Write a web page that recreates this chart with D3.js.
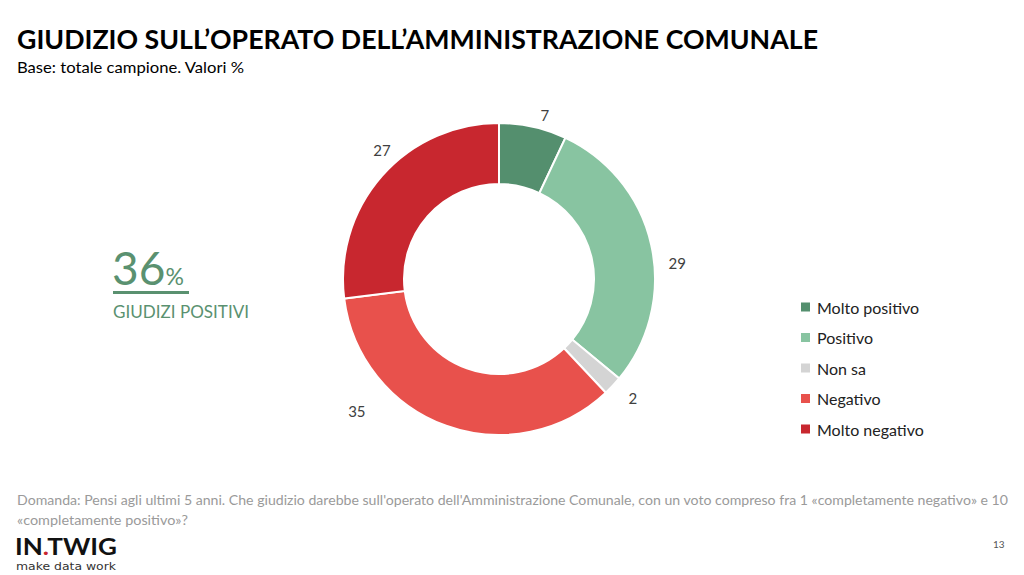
<!DOCTYPE html>
<html><head><meta charset="utf-8">
<script src="https://cdn.jsdelivr.net/npm/d3@7"></script>
<style>body{margin:0;background:#fff}svg{display:block}</style>
</head><body>
<svg id="c" width="1024" height="575"></svg>
<script>
const categories = ["Molto positivo","Positivo","Non sa","Negativo","Molto negativo"];
const values = [7, 29, 2, 35, 27];
const colors = ["#548F6E","#88C4A1","#D4D4D4","#E8514C","#C8272F"];
const positiveShare = 36;

const svg = d3.select("#c");
const font = "Lato, 'Open Sans', sans-serif";

svg.append("text").attr("x",17).attr("y",49).attr("font-family",font)
  .attr("font-weight","bold").attr("font-size",27).attr("fill","#000")
  .attr("textLength",801).attr("lengthAdjust","spacingAndGlyphs")
  .text("GIUDIZIO SULL\u2019OPERATO DELL\u2019AMMINISTRAZIONE COMUNALE");
svg.append("text").attr("x",17).attr("y",73).attr("font-family",font)
  .attr("font-size",15).attr("fill","#000")
  .attr("textLength",227).attr("lengthAdjust","spacingAndGlyphs")
  .text("Base: totale campione. Valori %");

// donut
const cx = 499, cy = 279, rO = 156, rI = 95;
const pie = d3.pie().sort(null).value(d=>d)(values);
const arc = d3.arc().innerRadius(rI).outerRadius(rO);
const g = svg.append("g").attr("transform",`translate(${cx},${cy})`);
g.selectAll("path").data(pie).join("path")
  .attr("d",arc).attr("fill",(d,i)=>colors[i])
  .attr("stroke","#fff").attr("stroke-width",2);

// label placement (layout only)
const labelR = [170, 179, 179, 194, 174];
const labelAngAdj = [0.053, 0.13, -0.028, 0.477, 0.111];
const la = (d,i)=>(d.startAngle+d.endAngle)/2+labelAngAdj[i];
g.selectAll("text.v").data(pie).join("text").attr("class","v")
  .attr("x",(d,i)=>Math.sin(la(d,i))*labelR[i])
  .attr("y",(d,i)=>-Math.cos(la(d,i))*labelR[i])
  .attr("text-anchor","middle").attr("dominant-baseline","central")
  .attr("font-family",font).attr("font-size",15).attr("fill","#404040")
  .text(d=>d.data);

// big stat
const green = "#5A9170";
const st = svg.append("text").attr("x",112).attr("y",285).attr("font-family",font).attr("fill",green);
st.append("tspan").attr("font-size",46).text(positiveShare);
st.append("tspan").attr("font-size",23).text("%");
svg.append("line").attr("x1",113).attr("x2",189).attr("y1",292.5).attr("y2",292.5)
  .attr("stroke",green).attr("stroke-width",3);
svg.append("text").attr("x",113).attr("y",318).attr("font-family",font).attr("font-size",16.5)
  .attr("fill",green).attr("textLength",136).attr("lengthAdjust","spacingAndGlyphs").text("GIUDIZI POSITIVI");

// legend
const ly = d3.scalePoint().domain(categories).range([307,429]);
const lg = svg.append("g");
lg.selectAll("rect").data(categories).join("rect")
  .attr("x",801).attr("y",d=>ly(d)-4.5).attr("width",9).attr("height",9)
  .attr("fill",(d,i)=>colors[i]);
lg.selectAll("text").data(categories).join("text")
  .attr("x",817).attr("y",d=>ly(d)).attr("dominant-baseline","central")
  .attr("font-family",font).attr("font-size",16).attr("fill","#222").text(d=>d);

// footer
svg.append("text").attr("x",17).attr("y",505).attr("font-family",font).attr("font-size",13)
  .attr("fill","#9a9a9a").attr("textLength",991).attr("lengthAdjust","spacingAndGlyphs")
  .text("Domanda: Pensi agli ultimi 5 anni. Che giudizio darebbe sull'operato dell'Amministrazione Comunale, con un voto compreso fra 1 \u00abcompletamente negativo\u00bb e 10");
svg.append("text").attr("x",17).attr("y",525).attr("font-family",font).attr("font-size",13)
  .attr("fill","#9a9a9a").attr("textLength",171).attr("lengthAdjust","spacingAndGlyphs")
  .text("\u00abcompletamente positivo\u00bb?");

const logo = svg.append("text").attr("x",15).attr("y",555).attr("font-family",font)
  .attr("font-weight","bold").attr("font-size",23.5).attr("fill","#111")
  .attr("textLength",102).attr("lengthAdjust","spacingAndGlyphs");
logo.append("tspan").text("IN");
logo.append("tspan").attr("fill","#C8272F").text(".");
logo.append("tspan").text("TWIG");
svg.append("text").attr("x",16).attr("y",570).attr("font-family","'DejaVu Sans', sans-serif")
  .attr("font-size",10.5).attr("fill","#333").attr("textLength",100).attr("lengthAdjust","spacingAndGlyphs")
  .text("make data work");
svg.append("text").attr("x",993).attr("y",548).attr("font-family",font).attr("font-size",10)
  .attr("fill","#555").text("13");
</script>
</body></html>
